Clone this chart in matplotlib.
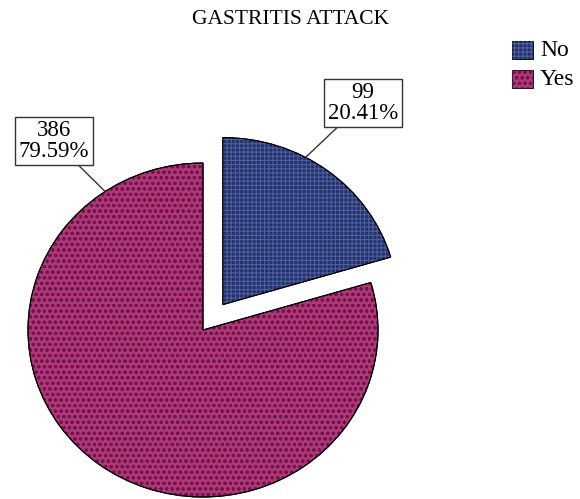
import numpy as np
import matplotlib
matplotlib.use("Agg")
import matplotlib.pyplot as plt
from matplotlib.patches import Wedge, Rectangle

plt.rcParams['font.family'] = ['Liberation Serif', 'DejaVu Serif']
plt.rcParams['hatch.linewidth'] = 0.8

# Data
categories = ["No", "Yes"]
counts = [99, 386]
title = "GASTRITIS ATTACK"

fill_colors = ["#24306a", "#b0387a"]
hatch_colors = ["#4d5f9e", "#6e1647"]
hatches = ["++++", "ooo"]

W, H = 580, 499
fig = plt.figure(figsize=(W / 100, H / 100), dpi=100)
ax = fig.add_axes([0, 0, 1, 1])

# pixel scale of one pie radius (horizontal / vertical)
sx, sy = 175.0, 167.0
cx_px, cy_px = 203.0, 330.0


def px(x, y):
    """Pixel position (from top-left) to data coordinates."""
    return ((x - cx_px) / sx, (cy_px - y) / sy)


wedges, _ = ax.pie(counts, explode=[0.19, 0.0], startangle=90, counterclock=False,
                   colors=fill_colors, radius=1.0,
                   wedgeprops=dict(edgecolor='black', linewidth=0.8))

ax.set_xlim(-cx_px / sx, (W - cx_px) / sx)
ax.set_ylim(-(H - cy_px) / sy, cy_px / sy)
ax.set_aspect('auto')
ax.axis('off')

for w, hc, hp in zip(wedges, hatch_colors, hatches):
    ax.add_patch(Wedge(w.center, w.r, w.theta1, w.theta2, facecolor='none',
                       edgecolor=hc, linewidth=0, hatch=hp, zorder=w.get_zorder() + 0.1))
    ax.add_patch(Wedge(w.center, w.r, w.theta1, w.theta2, facecolor='none',
                       edgecolor='black', linewidth=0.8, zorder=w.get_zorder() + 0.2))

total = sum(counts)
label_pos = [px(363, 103), px(54, 141)]
anchor_angles = [61.8, 124.0]
for w, c, pos, ang in zip(wedges, counts, label_pos, anchor_angles):
    cxw, cyw = w.center
    a = np.deg2rad(ang)
    xy = (cxw + np.cos(a), cyw + np.sin(a))
    ax.annotate(f"{c}\n{c / total * 100:.2f}%", xy=xy, xytext=pos,
                ha='center', va='center', fontsize=16.5, linespacing=0.95,
                bbox=dict(boxstyle='square,pad=0.15', facecolor='white',
                          edgecolor='#333333', linewidth=1.0),
                arrowprops=dict(arrowstyle='-', color='#333333', linewidth=1.0,
                                shrinkA=0, shrinkB=0),
                zorder=10)

fig.text(291 / W, 1 - 20 / H, title, ha='center', va='center', fontsize=15.5)

# Legend
for i, (cat, fc, hc, hp) in enumerate(zip(categories, fill_colors, hatch_colors, hatches)):
    y0 = 41 + i * 29
    p0, p1 = px(512, y0), px(533, y0 + 18)
    for face, edge, lw, h in [(fc, 'black', 0.6, None), ('none', hc, 0, hp)]:
        ax.add_patch(Rectangle((p0[0], p1[1]), p1[0] - p0[0], p0[1] - p1[1],
                               facecolor=face, edgecolor=edge, linewidth=lw, hatch=h))
    tx, ty = px(540, y0 + 9.5)
    ax.text(tx, ty, cat, ha='left', va='center', fontsize=17)

fig.savefig("out.png", dpi=100, facecolor='white')
